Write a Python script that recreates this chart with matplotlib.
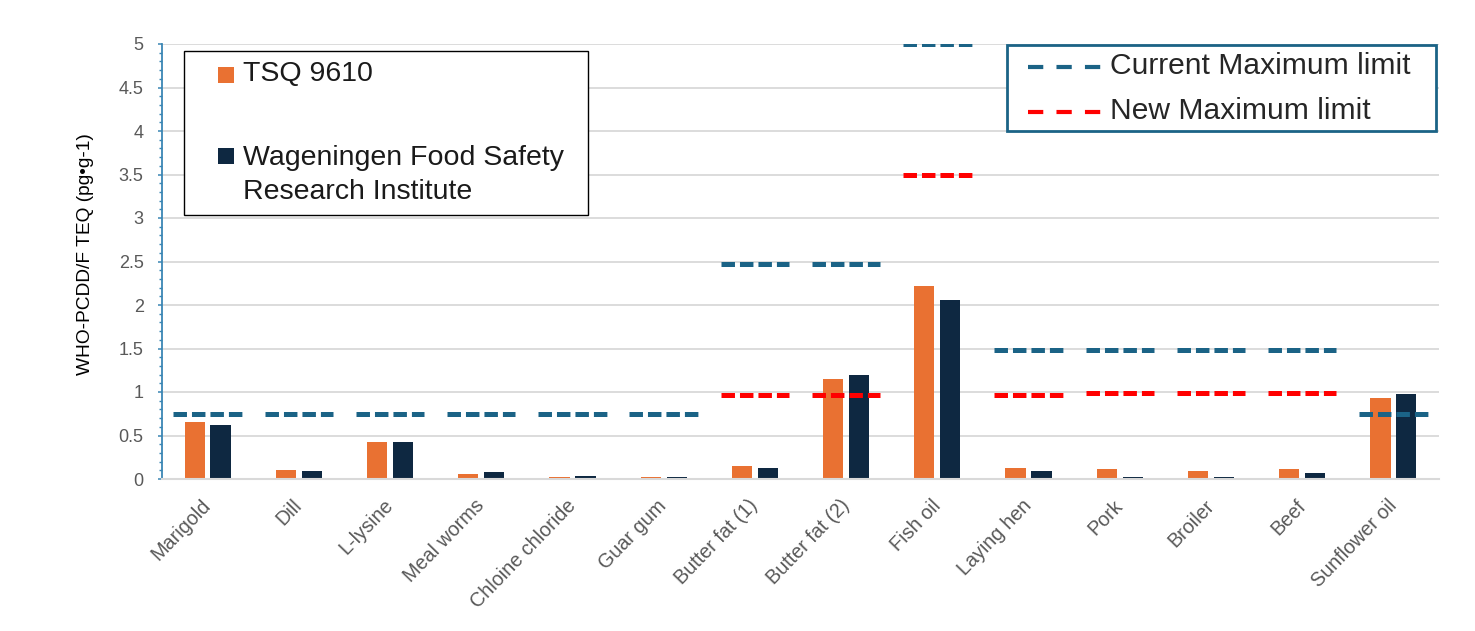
import matplotlib
matplotlib.use('Agg')
import matplotlib.pyplot as plt
import numpy as np
from matplotlib.patches import Rectangle
from matplotlib.lines import Line2D
from matplotlib.ticker import MultipleLocator, FuncFormatter

plt.rcParams['font.family'] = ['Liberation Sans', 'DejaVu Sans']
plt.rcParams['lines.scale_dashes'] = False

# ---------------- data ----------------
categories = ['Marigold', 'Dill', 'L-lysine', 'Meal worms', 'Chloine chloride',
              'Guar gum', 'Butter fat (1)', 'Butter fat (2)', 'Fish oil',
              'Laying hen', 'Pork', 'Broiler', 'Beef', 'Sunflower oil']
tsq_9610 = [0.65, 0.10, 0.43, 0.06, 0.02, 0.02, 0.15, 1.15, 2.22,
            0.13, 0.11, 0.09, 0.11, 0.93]
wfsr = [0.62, 0.09, 0.42, 0.08, 0.03, 0.02, 0.13, 1.20, 2.06,
        0.09, 0.02, 0.02, 0.065, 0.98]
current_limit = [0.75, 0.75, 0.75, 0.75, 0.75, 0.75, 2.47, 2.47, 5.0,
                 1.48, 1.48, 1.48, 1.48, 0.75]
new_limit = [np.nan, np.nan, np.nan, np.nan, np.nan, np.nan, 0.96, 0.96, 3.49,
             0.97, 0.99, 0.99, 0.99, np.nan]
series_names = ['TSQ 9610', 'Wageningen Food Safety\nResearch Institute']
limit_names = ['Current Maximum limit', 'New Maximum limit']
y_label = 'WHO-PCDD/F TEQ (pg\u2022g-1)'

# ---------------- style ----------------
C_ORANGE = '#E97132'
C_NAVY = '#0E2841'
C_CUR = '#1B6386'
C_NEW = '#FF0000'
C_TICK = '#595959'
C_GRID = '#D9D9D9'

W, H = 1475, 631
fig = plt.figure(figsize=(W / 100, H / 100), dpi=100)
fig.patch.set_facecolor('white')

def fx(x):
    return x / W

def fy(y):
    return 1 - y / H

x0, x1, y0, y1 = 162, 1439, 479, 44
ax = fig.add_axes([fx(x0), fy(y0), fx(x1) - fx(x0), fy(y1) - fy(y0)])

x = np.arange(len(categories))
bw = 0.222
off = 0.142
ax.bar(x - off, tsq_9610, width=bw, color=C_ORANGE, zorder=2)
ax.bar(x + off, wfsr, width=bw, color=C_NAVY, zorder=2)

half = 0.375
dash = (0, (9.7, 3.6))
lw_dash = 3.6
ax.hlines(current_limit, x - half, x + half, colors=C_CUR, linewidth=lw_dash,
          linestyles=[dash], zorder=3, capstyle='butt')
nl = np.array(new_limit, dtype=float)
m = ~np.isnan(nl)
ax.hlines(nl[m], x[m] - half, x[m] + half, colors=C_NEW, linewidth=lw_dash,
          linestyles=[dash], zorder=3, capstyle='butt')

ax.set_xlim(-0.5, len(categories) - 0.5)
ax.set_ylim(0, 5)
ax.yaxis.set_major_locator(MultipleLocator(0.5))
ax.yaxis.set_minor_locator(MultipleLocator(0.1))
ax.yaxis.set_major_formatter(FuncFormatter(lambda v, p: f'{v:g}'))
ax.grid(axis='y', which='major', color=C_GRID, linewidth=1.3, zorder=0)
ax.set_axisbelow(True)

for s in ['top', 'right']:
    ax.spines[s].set_visible(False)
ax.spines['left'].set_color('#3A86B4')
ax.spines['left'].set_linewidth(1.3)
ax.spines['bottom'].set_color(C_GRID)
ax.spines['bottom'].set_linewidth(1.5)

ax.tick_params(axis='y', which='major', length=3.2, width=1.1, color='#3A86B4',
               labelcolor=C_TICK, labelsize=13, pad=10)
ax.tick_params(axis='y', which='minor', length=2.4, width=1.0, color='#3A86B4')
ax.set_xticks(x)
ax.set_xticklabels(categories, rotation=46, ha='right', va='center',
                   rotation_mode='anchor', color=C_TICK, fontsize=14.2)
ax.tick_params(axis='x', length=0, pad=17)

fig.text(fx(86), fy(254), y_label, rotation=90, ha='center', va='center',
         fontsize=13.8, color='black')

# ---------------- legend 1 (series) ----------------
fig.patches.append(Rectangle((fx(184), fy(215)), fx(588) - fx(184), fy(51) - fy(215),
                             transform=fig.transFigure, facecolor='white',
                             edgecolor='black', linewidth=1.0, zorder=5))
sq = 16
for (cy, col) in [(75, C_ORANGE), (156.5, C_NAVY)]:
    fig.patches.append(Rectangle((fx(218), fy(cy + sq / 2)), fx(sq), sq / H,
                                 transform=fig.transFigure, facecolor=col,
                                 edgecolor='none', zorder=6))
fig.text(fx(243), fy(74), series_names[0], ha='left', va='center', fontsize=20.5,
         color='#1a1a1a', zorder=7)
fig.text(fx(243), fy(175), series_names[1], ha='left', va='center', fontsize=20.5,
         color='#1a1a1a', linespacing=1.42, zorder=7)

# ---------------- legend 2 (limits) ----------------
fig.patches.append(Rectangle((fx(1007), fy(131)), fx(1436) - fx(1007), fy(45) - fy(131),
                             transform=fig.transFigure, facecolor='white',
                             edgecolor='#1B6386', linewidth=2.0, zorder=5))
for (cy, col, name) in [(67, C_CUR, limit_names[0]), (112, C_NEW, limit_names[1])]:
    fig.lines.append(Line2D([fx(1028), fx(1103)], [fy(cy), fy(cy)],
                            transform=fig.transFigure, color=col, linewidth=3.0,
                            linestyle=(0, (11, 9.5)), solid_capstyle='butt',
                            dash_capstyle='butt', zorder=6))
    fig.text(fx(1110), fy(cy - 1), name, ha='left', va='center', fontsize=21.6,
             color='#262626', zorder=7)

fig.savefig('out.png', dpi=100)
